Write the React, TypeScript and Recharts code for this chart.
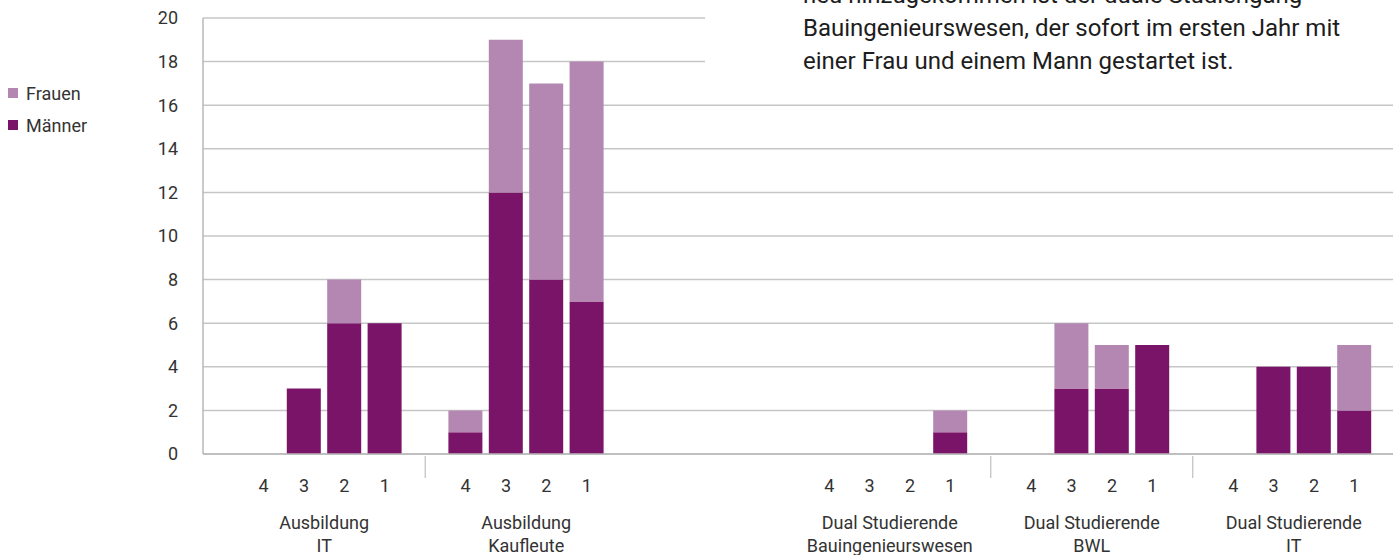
import { BarChart, Bar, XAxis, YAxis, CartesianGrid, Legend } from 'recharts'

const groupTitles = ['Ausbildung', 'Ausbildung', 'Dual Studierende', 'Dual Studierende', 'Dual Studierende']
const groupSubtitles = ['IT', 'Kaufleute', 'Bauingenieurswesen', 'BWL', 'IT']
const years = ['4', '3', '2', '1']

// per group, per year (4, 3, 2, 1)
const maenner = [
  [0, 3, 6, 6],
  [1, 12, 8, 7],
  [0, 0, 0, 1],
  [0, 3, 3, 5],
  [0, 4, 4, 2],
]
const frauen = [
  [0, 0, 2, 0],
  [1, 7, 9, 11],
  [0, 0, 0, 1],
  [0, 3, 2, 0],
  [0, 0, 0, 3],
]

const yTicks = [0, 2, 4, 6, 8, 10, 12, 14, 16, 18, 20]

const noteLines = [
  'neu hinzugekommen ist der duale Studiengang',
  'Bauingenieurswesen, der sofort im ersten Jahr mit',
  'einer Frau und einem Mann gestartet ist.',
]

const FONT = 'Roboto, "Noto Sans", sans-serif'
const DARK = '#7a1468'
const LIGHT = '#b387b1'

// empty slots in front of each group; the wide gap has no separator tick
const spacerBefore = [1, 1, 5, 1, 1]

type Row = {
  key: string
  year?: string
  group?: number
  sep?: boolean
  maenner?: number
  frauen?: number
}

const rows: Row[] = []
groupTitles.forEach((_, g) => {
  for (let i = 0; i < spacerBefore[g]; i++) {
    rows.push({ key: `gap-${g}-${i}`, sep: g > 0 && spacerBefore[g] === 1 })
  }
  years.forEach((y, i) => {
    rows.push({ key: `${g}-${y}`, year: y, group: g, maenner: maenner[g][i], frauen: frauen[g][i] })
  })
})
rows.push({ key: 'gap-end' })

const rowByKey = new Map(rows.map((r) => [r.key, r]))

function SlotTick(props: any) {
  const { x, y, payload } = props
  const row = rowByKey.get(payload.value)
  if (!row) return null
  if (row.sep) {
    return <line x1={x} x2={x} y1={y + 2} y2={y + 24} stroke="#b3b3b3" strokeWidth={1} />
  }
  if (!row.year) return null
  const half = payload.offset ?? 20
  return (
    <g fontFamily={FONT} fill="#333">
      <text x={x} y={y + 38} textAnchor="middle" fontSize={18} fill="#333">
        {row.year}
      </text>
      {row.year === '3' && row.group !== undefined && (
        <text x={x + half} y={y + 75} textAnchor="middle" fontSize={18} fill="#333">
          <tspan x={x + half}>{groupTitles[row.group]}</tspan>
          <tspan x={x + half} dy={23}>
            {groupSubtitles[row.group]}
          </tspan>
        </text>
      )}
    </g>
  )
}

function LegendList({ payload }: any) {
  // Frauen above Männer, as in the source
  const items = [...(payload ?? [])].sort((a: any, b: any) => (a.value === 'Frauen' ? -1 : b.value === 'Frauen' ? 1 : 0))
  return (
    <div style={{ fontFamily: FONT, fontSize: 18, color: '#333' }}>
      {items.map((it: any) => (
        <div key={it.value} style={{ display: 'flex', alignItems: 'center', height: 32 }}>
          <span style={{ width: 10, height: 10, background: it.color, marginRight: 8, display: 'inline-block' }} />
          {it.value}
        </div>
      ))}
    </div>
  )
}

export default function App() {
  return (
    <div
      style={{
        position: 'absolute',
        left: 0,
        top: 0,
        width: 1393,
        height: 555,
        overflow: 'hidden',
        background: '#fff',
        fontFamily: FONT,
      }}
    >
      <BarChart
        width={1415}
        height={555}
        data={rows}
        margin={{ top: 18, right: 0, left: 0, bottom: 0 }}
        barSize={34}
      >
        <CartesianGrid vertical={false} stroke="#c6c6c6" strokeWidth={1.5} />
        <XAxis
          dataKey="key"
          interval={0}
          tickLine={false}
          tickSize={0}
          tickMargin={0}
          height={101}
          stroke="#b8b8b8"
          strokeWidth={1.5}
          tick={<SlotTick />}
        />
        <YAxis
          domain={[0, 20]}
          ticks={yTicks}
          width={203}
          tickLine={false}
          tickSize={0}
          tickMargin={25}
          stroke="#b8b8b8"
          strokeWidth={1.5}
          tick={{ fontSize: 18, fill: '#333', fontFamily: FONT }}
        />
        <Legend
          layout="horizontal"
          verticalAlign="middle"
          align="center"
          wrapperStyle={{ left: 8, top: 77, width: 120 }}
          content={<LegendList />}
        />
        <Bar dataKey="maenner" name="Männer" stackId="a" fill={DARK} isAnimationActive={false} />
        <Bar dataKey="frauen" name="Frauen" stackId="a" fill={LIGHT} isAnimationActive={false} />
      </BarChart>
      <div
        style={{
          position: 'absolute',
          left: 705,
          top: 0,
          width: 700,
          height: 78,
          background: '#fff',
          overflow: 'hidden',
        }}
      >
        <div style={{ marginTop: -21, paddingLeft: 98, fontSize: 24, lineHeight: '33px', color: '#1d1d1d' }}>
          {noteLines.map((l) => (
            <div key={l} style={{ whiteSpace: 'nowrap' }}>
              {l}
            </div>
          ))}
        </div>
      </div>
    </div>
  )
}
